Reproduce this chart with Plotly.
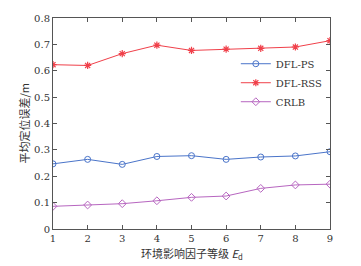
import plotly.graph_objects as go

levels = [1, 2, 3, 4, 5, 6, 7, 8, 9]
dfl_ps = [0.247, 0.264, 0.245, 0.275, 0.278, 0.264, 0.273, 0.277, 0.293]
dfl_rss = [0.623, 0.620, 0.665, 0.697, 0.677, 0.682, 0.685, 0.690, 0.714]
crlb = [0.086, 0.091, 0.096, 0.107, 0.120, 0.125, 0.154, 0.167, 0.170]

serif = "DejaVu Serif"
cjk = "Noto Sans CJK SC"

fig = go.Figure()
fig.add_trace(go.Scatter(x=levels, y=dfl_ps, name="DFL-PS", mode="lines+markers",
                         line=dict(color="#4a74c9", width=1),
                         marker=dict(symbol="circle-open", size=6, color="#4a74c9",
                                     line=dict(width=1, color="#4a74c9"))))
fig.add_trace(go.Scatter(x=levels, y=dfl_rss, name="DFL-RSS", mode="lines+markers",
                         line=dict(color="#f0404a", width=1),
                         marker=dict(symbol="asterisk", size=6, color="#f0404a",
                                     line=dict(width=1.2, color="#f0404a"))))
fig.add_trace(go.Scatter(x=levels, y=crlb, name="CRLB", mode="lines+markers",
                         line=dict(color="#b766c0", width=1),
                         marker=dict(symbol="diamond-open", size=6, color="#b766c0",
                                     line=dict(width=1, color="#b766c0"))))

axis_common = dict(showline=True, linecolor="#555555", linewidth=1, mirror="ticks",
                   ticks="inside", ticklen=4, tickcolor="#555555", showgrid=False,
                   zeroline=False, tickfont=dict(family=serif, size=10, color="#333333"))

fig.update_layout(
    width=361, height=266,
    margin=dict(l=53, r=31, t=13, b=37),
    paper_bgcolor="white", plot_bgcolor="white",
    xaxis=dict(range=[1, 9], tickvals=levels, ticktext=[str(v) for v in levels],
               **axis_common),
    yaxis=dict(range=[0, 0.8], tickvals=[0, 0.1, 0.2, 0.3, 0.4, 0.5, 0.6, 0.7, 0.8],
               ticktext=["0", "0.1", "0.2", "0.3", "0.4", "0.5", "0.6", "0.7", "0.8"],
               **axis_common),
    legend=dict(x=0.66, y=0.852, xanchor="left", yanchor="top",
                bgcolor="rgba(0,0,0,0)", borderwidth=0,
                font=dict(family=serif, size=10, color="#333333"),
                tracegroupgap=0, itemwidth=30),
    showlegend=True,
    annotations=[
        dict(text="环境影响因子等级 <i>E</i><sub>d</sub>", xref="paper", yref="paper",
             x=0.5, y=-0.116, xanchor="center", yanchor="middle", showarrow=False,
             font=dict(family=cjk, size=11, color="#333333")),
        dict(text="平均定位误差/m", xref="paper", yref="paper",
             x=-0.108, y=0.5, xanchor="center", yanchor="middle", showarrow=False,
             textangle=-90, font=dict(family=cjk, size=11, color="#333333")),
    ],
)

fig.write_html("out.html", config={"displayModeBar": False},
               post_script="document.body.style.margin='0';document.body.style.overflow='hidden';")
